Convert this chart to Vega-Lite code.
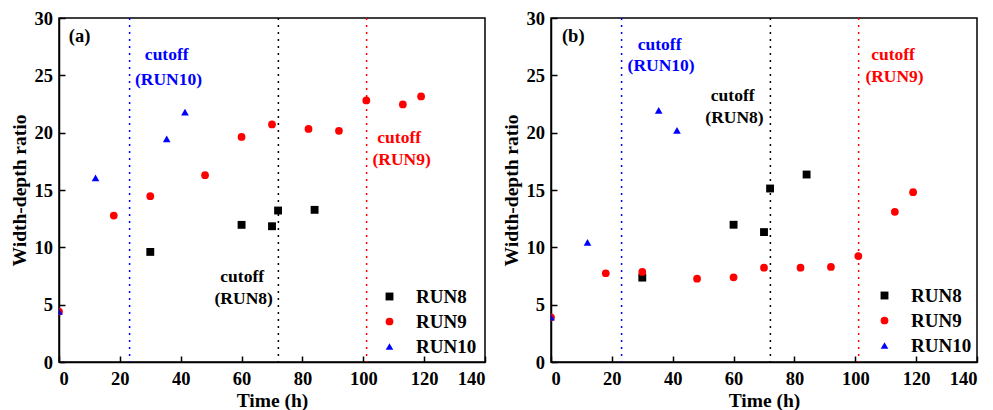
{
  "$schema": "https://vega.github.io/schema/vega-lite/v6.json",
  "background": "white",
  "padding": {"left": 8, "top": 8, "right": 5, "bottom": 0},
  "config": {
    "font": "Liberation Serif, Times New Roman, Tinos, serif",
    "view": {"stroke": "black", "strokeWidth": 1.5},
    "axis": {
      "grid": false,
      "domainColor": "black", "domainWidth": 1.5,
      "tickColor": "black", "tickWidth": 1.5,
      "labelFont": "Liberation Serif, Times New Roman, Tinos, serif", "labelFontSize": 18.5, "labelFontWeight": "bold", "labelColor": "black",
      "titleFont": "Liberation Serif, Times New Roman, Tinos, serif", "titleFontSize": 19.5, "titleFontWeight": "bold", "titleColor": "black"
    },
    "legend": {
      "padding": 0,
      "labelFont": "Liberation Serif, Times New Roman, Tinos, serif", "labelFontSize": 19, "labelFontWeight": "bold", "labelColor": "black",
      "symbolSize": 48, "symbolStrokeWidth": 0, "rowPadding": 5, "labelOffset": 17
    }
  },
  "datasets": {
    "a_pts": [
      {"series": "RUN8", "time": 30, "ratio": 9.6},
      {"series": "RUN8", "time": 60, "ratio": 11.96},
      {"series": "RUN8", "time": 70, "ratio": 11.84},
      {"series": "RUN8", "time": 72, "ratio": 13.21},
      {"series": "RUN8", "time": 84, "ratio": 13.27},
      {"series": "RUN9", "time": 0, "ratio": 4.4},
      {"series": "RUN9", "time": 18, "ratio": 12.77},
      {"series": "RUN9", "time": 30, "ratio": 14.46},
      {"series": "RUN9", "time": 48, "ratio": 16.29},
      {"series": "RUN9", "time": 60, "ratio": 19.63},
      {"series": "RUN9", "time": 70, "ratio": 20.72},
      {"series": "RUN9", "time": 82, "ratio": 20.33},
      {"series": "RUN9", "time": 92, "ratio": 20.16},
      {"series": "RUN9", "time": 101, "ratio": 22.81},
      {"series": "RUN9", "time": 113, "ratio": 22.46},
      {"series": "RUN9", "time": 119, "ratio": 23.16},
      {"series": "RUN10", "time": 0, "ratio": 4.4},
      {"series": "RUN10", "time": 12, "ratio": 16.06},
      {"series": "RUN10", "time": 35.4, "ratio": 19.46},
      {"series": "RUN10", "time": 41.4, "ratio": 21.79}
    ],
    "b_pts": [
      {"series": "RUN8", "time": 30, "ratio": 7.36},
      {"series": "RUN8", "time": 60, "ratio": 11.97},
      {"series": "RUN8", "time": 70, "ratio": 11.33},
      {"series": "RUN8", "time": 72, "ratio": 15.13},
      {"series": "RUN8", "time": 84, "ratio": 16.35},
      {"series": "RUN9", "time": 0, "ratio": 3.9},
      {"series": "RUN9", "time": 18, "ratio": 7.74},
      {"series": "RUN9", "time": 30, "ratio": 7.85},
      {"series": "RUN9", "time": 48, "ratio": 7.27},
      {"series": "RUN9", "time": 60, "ratio": 7.39},
      {"series": "RUN9", "time": 70, "ratio": 8.23},
      {"series": "RUN9", "time": 82, "ratio": 8.23},
      {"series": "RUN9", "time": 92, "ratio": 8.29},
      {"series": "RUN9", "time": 101, "ratio": 9.24},
      {"series": "RUN9", "time": 113, "ratio": 13.1},
      {"series": "RUN9", "time": 119, "ratio": 14.81},
      {"series": "RUN10", "time": 0, "ratio": 3.9},
      {"series": "RUN10", "time": 12, "ratio": 10.43},
      {"series": "RUN10", "time": 35.4, "ratio": 21.94},
      {"series": "RUN10", "time": 41.4, "ratio": 20.2}
    ],
    "cut": [
      {"series": "RUN10", "time": 23.2},
      {"series": "RUN8", "time": 72.1},
      {"series": "RUN9", "time": 101.1}
    ],
    "a_txt": [
      {"series": "RUN10", "text": "cutoff", "time": 35.4, "ratio": 26.76},
      {"series": "RUN10", "text": "(RUN10)", "time": 36.0, "ratio": 24.58},
      {"series": "RUN8", "text": "cutoff", "time": 60.2, "ratio": 7.39},
      {"series": "RUN8", "text": "(RUN8)", "time": 60.7, "ratio": 5.5},
      {"series": "RUN9", "text": "cutoff", "time": 111.8, "ratio": 19.55},
      {"series": "RUN9", "text": "(RUN9)", "time": 112.6, "ratio": 17.6}
    ],
    "b_txt": [
      {"series": "RUN10", "text": "cutoff", "time": 35.7, "ratio": 27.65},
      {"series": "RUN10", "text": "(RUN10)", "time": 36.2, "ratio": 25.79},
      {"series": "RUN8", "text": "cutoff", "time": 59.7, "ratio": 23.18},
      {"series": "RUN8", "text": "(RUN8)", "time": 60.3, "ratio": 21.3},
      {"series": "RUN9", "text": "cutoff", "time": 112.4, "ratio": 26.78},
      {"series": "RUN9", "text": "(RUN9)", "time": 112.9, "ratio": 24.83}
    ],
    "a_lab": [{"text": "(a)", "time": 3.2, "ratio": 28.4}],
    "b_lab": [{"text": "(b)", "time": 3.6, "ratio": 28.46}]
  },
  "spacing": 66,
  "bounds": "flush",
  "resolve": {"scale": {"color": "independent", "shape": "independent", "size": "independent"}},
  "hconcat": [
    {
      "width": 426, "height": 344,
      "layer": [
        {
          "data": {"name": "cut"},
          "mark": {"type": "rule", "strokeDash": [2, 5], "strokeWidth": 1.5},
          "encoding": {
            "x": {"field": "time", "type": "quantitative",
              "scale": {"domain": [0, 140], "nice": false},
              "axis": {"values": [0,10,20,30,40,50,60,70,80,90,100,110,120,130,140],
                "labelExpr": "datum.value % 20 === 0 ? datum.label : ''",
                "tickSize": {"condition": {"test": "datum.value % 20 === 0", "value": -6}, "value": -3},
                "labelPadding": 13, "title": "Time (h)", "titlePadding": 4}},
            "stroke": {"field": "series", "type": "nominal",
              "scale": {"domain": ["RUN8", "RUN9", "RUN10"], "range": ["black", "#ff0000", "#0000ff"]},
              "legend": null}
          }
        },
        {
          "data": {"name": "a_pts"},
          "mark": {"type": "point", "filled": true, "opacity": 1, "clip": true},
          "encoding": {
            "x": {"field": "time", "type": "quantitative"},
            "y": {"field": "ratio", "type": "quantitative",
              "scale": {"domain": [0, 30], "nice": false},
              "axis": {"values": [0,2.5,5,7.5,10,12.5,15,17.5,20,22.5,25,27.5,30],
                "labelExpr": "datum.value % 5 === 0 ? datum.label : ''",
                "tickSize": {"condition": {"test": "datum.value % 5 === 0", "value": -6}, "value": -3},
                "labelPadding": 12.5, "title": "Width-depth ratio", "titlePadding": 5}},
            "color": {"field": "series", "type": "nominal",
              "scale": {"domain": ["RUN8", "RUN9", "RUN10"], "range": ["black", "#ff0000", "#0000ff"]},
              "legend": {"orient": "none", "title": null, "legendX": 321, "legendY": 269}},
            "shape": {"field": "series", "type": "nominal",
              "scale": {"domain": ["RUN8", "RUN9", "RUN10"], "range": ["square", "circle", "triangle-up"]},
              "legend": {"orient": "none", "title": null, "legendX": 321, "legendY": 269}},
            "size": {"field": "series", "type": "nominal",
              "scale": {"domain": ["RUN8", "RUN9", "RUN10"], "range": [62, 58, 95]},
              "legend": null}
          }
        },
        {
          "data": {"name": "a_txt"},
          "mark": {"type": "text", "fontSize": 17.5, "fontWeight": "bold", "baseline": "middle"},
          "encoding": {
            "x": {"field": "time", "type": "quantitative"},
            "y": {"field": "ratio", "type": "quantitative"},
            "text": {"field": "text"},
            "fill": {"field": "series", "type": "nominal",
              "scale": {"domain": ["RUN8", "RUN9", "RUN10"], "range": ["black", "#ff0000", "#0000ff"]},
              "legend": null}
          }
        },
        {
          "data": {"name": "a_lab"},
          "mark": {"type": "text", "align": "left", "baseline": "middle", "fontSize": 18.5, "fontWeight": "bold", "color": "black"},
          "encoding": {
            "x": {"field": "time", "type": "quantitative"},
            "y": {"field": "ratio", "type": "quantitative"},
            "text": {"field": "text"}
          }
        }
      ]
    },
    {
      "width": 426, "height": 344,
      "layer": [
        {
          "data": {"name": "cut"},
          "mark": {"type": "rule", "strokeDash": [2, 5], "strokeWidth": 1.5},
          "encoding": {
            "x": {"field": "time", "type": "quantitative",
              "scale": {"domain": [0, 140], "nice": false},
              "axis": {"values": [0,10,20,30,40,50,60,70,80,90,100,110,120,130,140],
                "labelExpr": "datum.value % 20 === 0 ? datum.label : ''",
                "tickSize": {"condition": {"test": "datum.value % 20 === 0", "value": -6}, "value": -3},
                "labelPadding": 13, "title": "Time (h)", "titlePadding": 4}},
            "stroke": {"field": "series", "type": "nominal",
              "scale": {"domain": ["RUN8", "RUN9", "RUN10"], "range": ["black", "#ff0000", "#0000ff"]},
              "legend": null}
          }
        },
        {
          "data": {"name": "b_pts"},
          "mark": {"type": "point", "filled": true, "opacity": 1, "clip": true},
          "encoding": {
            "x": {"field": "time", "type": "quantitative"},
            "y": {"field": "ratio", "type": "quantitative",
              "scale": {"domain": [0, 30], "nice": false},
              "axis": {"values": [0,2.5,5,7.5,10,12.5,15,17.5,20,22.5,25,27.5,30],
                "labelExpr": "datum.value % 5 === 0 ? datum.label : ''",
                "tickSize": {"condition": {"test": "datum.value % 5 === 0", "value": -6}, "value": -3},
                "labelPadding": 12.5, "title": "Width-depth ratio", "titlePadding": 5}},
            "color": {"field": "series", "type": "nominal",
              "scale": {"domain": ["RUN8", "RUN9", "RUN10"], "range": ["black", "#ff0000", "#0000ff"]},
              "legend": {"orient": "none", "title": null, "legendX": 324, "legendY": 268}},
            "shape": {"field": "series", "type": "nominal",
              "scale": {"domain": ["RUN8", "RUN9", "RUN10"], "range": ["square", "circle", "triangle-up"]},
              "legend": {"orient": "none", "title": null, "legendX": 324, "legendY": 268}},
            "size": {"field": "series", "type": "nominal",
              "scale": {"domain": ["RUN8", "RUN9", "RUN10"], "range": [62, 58, 95]},
              "legend": null}
          }
        },
        {
          "data": {"name": "b_txt"},
          "mark": {"type": "text", "fontSize": 17.5, "fontWeight": "bold", "baseline": "middle"},
          "encoding": {
            "x": {"field": "time", "type": "quantitative"},
            "y": {"field": "ratio", "type": "quantitative"},
            "text": {"field": "text"},
            "fill": {"field": "series", "type": "nominal",
              "scale": {"domain": ["RUN8", "RUN9", "RUN10"], "range": ["black", "#ff0000", "#0000ff"]},
              "legend": null}
          }
        },
        {
          "data": {"name": "b_lab"},
          "mark": {"type": "text", "align": "left", "baseline": "middle", "fontSize": 18.5, "fontWeight": "bold", "color": "black"},
          "encoding": {
            "x": {"field": "time", "type": "quantitative"},
            "y": {"field": "ratio", "type": "quantitative"},
            "text": {"field": "text"}
          }
        }
      ]
    }
  ]
}
